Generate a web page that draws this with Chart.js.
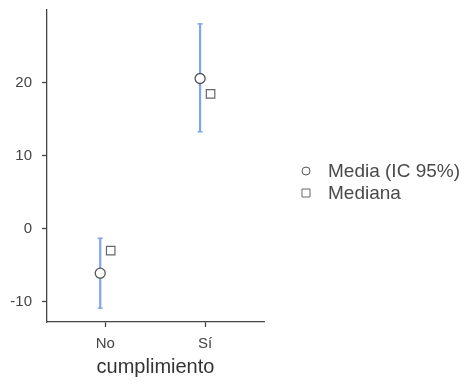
<!DOCTYPE html>
<html>
<head>
<meta charset="utf-8">
<script src="https://cdn.jsdelivr.net/npm/chart.js@4.4.1/dist/chart.umd.min.js"></script>
<style>
  html, body { margin: 0; padding: 0; background: #fff; }
</style>
</head>
<body>
<canvas id="chart" width="471" height="385"></canvas>
<script>
const categories = ['No', 'Sí'];
const meanValues = [-6.1, 20.6];
const medianValues = [-3.0, 18.5];
const ciLower = [-10.9, 13.3];
const ciUpper = [-1.3, 28.1];
const yTicks = [-10, 0, 10, 20];
const legendLabels = ['Media (IC 95%)', 'Mediana'];

const FONT = "'Liberation Sans', Arial, Helvetica, sans-serif";
const barColor = '#7fa4ec';
const dodge = 0.05;

// one small line dataset per category for the error bar
const errorBars = categories.map((c, i) => ({
    type: 'line',
    label: 'ic-' + c,
    data: [{ x: i - dodge, y: ciLower[i] }, { x: i - dodge, y: ciUpper[i] }],
    showLine: true,
    borderColor: barColor,
    borderWidth: 2.2,
    pointStyle: 'line',
    pointRadius: 2.5,
    pointBorderWidth: 1.5,
    pointBorderColor: barColor,
    pointHoverRadius: 2.5
}));

const legendPlugin = {
    id: 'sideLegend',
    afterDraw(chart) {
        const ctx = chart.ctx;
        const x0 = chart.chartArea.right + 42;
        const rows = [171, 193];
        ctx.save();
        rows.forEach((y, i) => {
            const ds = chart.data.datasets[i];
            ctx.lineWidth = 1;
            ctx.strokeStyle = ds.pointBorderColor;
            ctx.fillStyle = '#fff';
            ctx.beginPath();
            if (ds.pointStyle === 'circle') {
                ctx.arc(x0, y, 4, 0, Math.PI * 2);
            } else {
                ctx.rect(x0 - 4, y - 4, 8, 8);
            }
            ctx.fill();
            ctx.stroke();
            ctx.fillStyle = '#4a4a4a';
            ctx.font = '19px ' + FONT;
            ctx.textBaseline = 'middle';
            ctx.textAlign = 'left';
            ctx.fillText(legendLabels[i], x0 + 22, y + 1);
        });
        ctx.restore();
    }
};

new Chart(document.getElementById('chart'), {
    type: 'scatter',
    data: {
        datasets: [
            {
                label: legendLabels[0],
                data: meanValues.map((v, i) => ({ x: i - dodge, y: v })),
                pointStyle: 'circle',
                pointRadius: 5,
                pointBorderWidth: 1.3,
                pointBorderColor: '#555',
                pointBackgroundColor: '#fff'
            },
            {
                label: legendLabels[1],
                data: medianValues.map((v, i) => ({ x: i + dodge + 0.005, y: v })),
                pointStyle: 'rect',
                pointRadius: 6,
                pointBorderWidth: 1.2,
                pointBorderColor: '#666',
                pointBackgroundColor: '#fff'
            },
            ...errorBars
        ]
    },
    options: {
        responsive: false,
        animation: false,
        devicePixelRatio: 1,
        layout: { padding: { top: 10, right: 207, bottom: 0, left: 0 } },
        plugins: {
            legend: { display: false },
            tooltip: { enabled: false }
        },
        scales: {
            x: {
                type: 'linear',
                min: -0.583,
                max: 1.59,
                afterBuildTicks: s => { s.ticks = categories.map((c, i) => ({ value: i })); },
                afterFit: s => { s.height = 63; s.paddingLeft = 0; s.paddingRight = 0; },
                ticks: {
                    callback: v => categories[v],
                    font: { family: FONT, size: 15 },
                    color: '#444',
                    padding: 8
                },
                grid: { drawOnChartArea: false, drawTicks: true, tickLength: 5, tickColor: '#444', tickWidth: 1.3 },
                border: { display: true, color: '#444', width: 1.3 },
                title: {
                    display: true,
                    text: 'cumplimiento',
                    font: { family: FONT, size: 20 },
                    color: '#333',
                    padding: { top: 0, bottom: 6 }
                }
            },
            y: {
                min: -12.8,
                max: 30,
                afterBuildTicks: s => { s.ticks = yTicks.map(v => ({ value: v })); },
                afterFit: s => { s.width = 47; s.paddingTop = 0; s.paddingBottom = 0; },
                ticks: {
                    font: { family: FONT, size: 15 },
                    color: '#444',
                    padding: 10
                },
                grid: { drawOnChartArea: false, drawTicks: true, tickLength: 5, tickColor: '#444', tickWidth: 1.3 },
                border: { display: true, color: '#444', width: 1.3 }
            }
        }
    },
    plugins: [legendPlugin]
});
</script>
</body>
</html>
